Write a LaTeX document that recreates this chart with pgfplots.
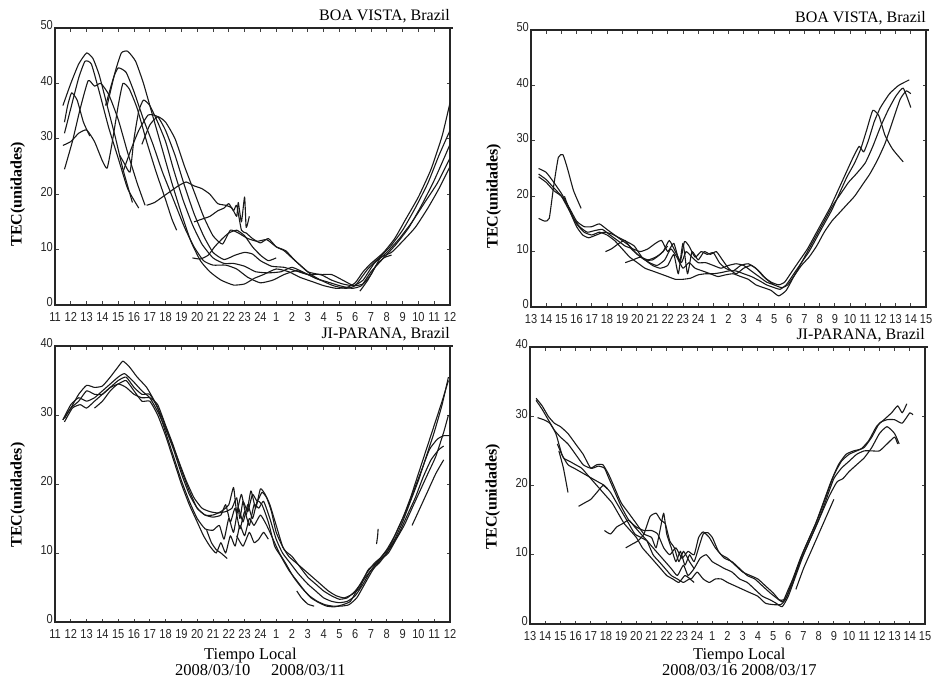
\documentclass[border=0pt]{standalone}
\usepackage{pgfplots}
\pgfplotsset{compat=1.18}
\usepackage{fontspec}
\setmainfont{Liberation Serif}
\newfontfamily\tickfont[FakeStretch=0.85]{Liberation Sans}
\begin{document}
\begin{tikzpicture}
\useasboundingbox (0,0) rectangle (939pt,686pt);
\pgfplotsset{
  panel/.style={
    scale only axis, width=395pt, anchor=south west,
    axis line style={line width=1.1pt, black!85},
    tick align=inside, major tick length=3.5pt,
    tick style={black!75, line width=0.8pt},
    ymin=0,
    tick label style={font=\tickfont\fontsize{13}{13}\selectfont, black!85},
    /pgf/number format/assume math mode=true,
    xticklabel style={yshift=-7pt, inner sep=0pt},
    yticklabel style={yshift=2.5pt, inner sep=2pt},
    ylabel={TEC(unidades)},
    ylabel style={font=\bfseries\fontsize{16}{16}\selectfont, anchor=center},
    title style={font=\fontsize{16}{16}\selectfont, at={(axis description cs:1,1)}, anchor=base east, yshift=2pt, inner sep=0pt},
    extra description/.code={\draw[line width=1.8pt, black!85] (-0.002,1) -- (1.008,1);},
  },
  tec/.style={black!90, line width=1.1pt, smooth, tension=0.3, mark=none, line join=round},
  dayA/.style={xmin=11, xmax=36, xtick={11,...,36},
    xticklabels={11,12,13,14,15,16,17,18,19,20,21,22,23,24,1,2,3,4,5,6,7,8,9,10,11,12}},
  dayB/.style={xmin=13, xmax=39, xtick={13,...,39},
    xticklabels={13,14,15,16,17,18,19,20,21,22,23,24,1,2,3,4,5,6,7,8,9,10,11,12,13,14,15}},
}

% ---------- top left: BOA VISTA 10-11 ----------
\begin{axis}[panel, dayA, at={(55pt,381pt)}, height=277pt, ymax=50,
  ytick={0,10,...,50}, title={BOA VISTA, Brazil},
  ylabel style={at={(axis description cs:-0.094,0.40)}}]
\addplot[tec] coordinates {(11.5,36)(12,40)(12.5,43.5)(13,45.5)(13.4,44.5)(13.8,41.5)(14.3,36)(14.8,30.5)(15.3,24.5)(15.9,18.5)};
\addplot[tec] coordinates {(11.6,31)(12,35.5)(12.5,41)(12.9,44)(13.3,43.5)(13.8,38.5)(14.4,32)(15,26.5)(15.6,21)(16.3,17.5)};
\addplot[tec] coordinates {(11.6,24.5)(12.1,29.5)(12.6,35.5)(13.1,40.5)(13.5,39.5)(13.9,40)(14.4,38)(15,33.5)(15.6,27.5)(16.2,22)(16.7,18)};
\addplot[tec] coordinates {(11.6,33)(11.8,36)(12.05,38.3)(12.4,37)(12.8,33)(13.2,30.5)};
\addplot[tec] coordinates {(11.5,28.8)(12,29.5)(12.5,31)(13,31.6)(13.5,29.5)(14,26)(14.3,24.7)(14.6,29)(15,36)(15.3,40)(15.7,39)(16.2,35.5)(16.8,29.5)(17.4,24)(18,19)(18.4,15.5)(18.7,13.5)};
\addplot[tec] coordinates {(14.3,36)(14.8,42)(15.2,45.5)(15.6,45.8)(16.1,44)(16.6,40)(17.2,34)(17.8,28)(18.4,22)(19,16.5)(19.6,11.5)(20.2,8)(20.8,6)(21.5,4.5)(22.3,3.6)(23,3.8)(23.6,4.8)(24.2,5.5)(25,6.5)(25.8,6)(26.5,5)(27.3,4.2)(28,3.5)(28.8,3)(29.5,3.2)(30,4)(30.5,6)(31,7.5)(31.8,9.5)(32.5,12)(33.2,15.5)(34,19.5)(34.8,24.5)(35.5,30.5)(36,36.5)};
\addplot[tec] coordinates {(14.2,36)(14.7,41)(15,42.8)(15.5,42)(16,38.5)(16.6,33.5)(17.2,29)(17.8,24)(18.5,19)(19.2,14)(19.8,10.5)(20.4,8)(21,7.2)(21.8,7.2)(22.5,6.5)(23.2,5)(24,4)(24.8,4.5)(25.5,5.5)(26.3,6.2)(27,5.5)(27.8,4.5)(28.6,3.5)(29.4,3)(30,3.5)(30.8,6.5)(31.5,8.5)(32.2,10.5)(33,13.5)(33.8,17.5)(34.6,22)(35.3,27)(36,31.5)};
\addplot[tec] coordinates {(15.1,27)(15.4,25.5)(15.75,24)(16,30)(16.3,35)(16.6,37)(17,36)(17.5,33)(18,29.5)(18.5,24.5)(19.1,19)(19.7,14.5)(20.3,11)(21,8.5)(21.7,7.5)(22.3,7.5)(23,7)(23.7,6)(24.5,5.8)(25.3,6)(26,6.8)(26.8,5.8)(27.5,4.8)(28.2,4.2)(29,3.5)(29.8,3)(30.4,3.5)(31,6)(31.8,8.5)(32.6,11)(33.4,14)(34.2,18)(35,22.5)(35.7,27)(36,29)};
\addplot[tec] coordinates {(15.3,24)(15.8,28)(16.3,31.5)(16.9,34.3)(17.5,34)(18,31.5)(18.6,27)(19.2,21.5)(19.8,16.5)(20.4,12.5)(21,9.5)(21.7,8.2)(22.4,9)(23,9.5)(23.5,9.2)(24,8)(24.7,7)(25.5,6.8)(26.2,6.2)(27,5.5)(27.8,5.5)(28.5,4.5)(29.2,3.8)(29.9,3.5)(30.5,4.5)(31.2,7.5)(32,9.5)(32.8,12)(33.6,15)(34.4,18.5)(35.2,22)(36,26.5)};
\addplot[tec] coordinates {(16.5,29)(17,32.5)(17.5,34)(18,33)(18.6,30)(19.2,25)(19.8,20.5)(20.4,16)(21,12.5)(21.6,11)(22.1,13.5)(22.6,13)(23.2,12)(23.8,11.5)(24.4,11.8)(25,10.5)(25.6,9.8)(26.2,8)(27,6)(27.8,5.5)(28.5,5.5)(29.2,4.5)(29.9,3.5)(30.5,3.8)(31,5.5)(31.6,8.5)(32.3,9.5)(33,11.5)(33.8,14)(34.6,17.5)(35.3,21)(36,25)};
\addplot[tec] coordinates {(16.8,18)(17.3,18.5)(17.8,19.5)(18.3,20.5)(18.8,21.5)(19.3,22.2)(19.8,21.5)(20.3,21)(20.8,20)(21.3,18.3)(21.8,18)(22.2,17.5)(22.5,16)(22.6,18.5)(22.8,15)(23,19.5)(23.1,14)(23.3,16)};
\addplot[tec] coordinates {(19.8,15)(20.3,15.5)(20.8,16)(21.3,17)(21.7,17.5)(22,18.3)(22.3,17)(22.5,18)(22.8,13.5)(23.1,13)(23.5,12)(24,11.2)(24.5,12)(25,10.5)(25.5,9.8)(26,8.5)(26.6,7)(27.2,5.5)(27.8,4.5)};
\addplot[tec] coordinates {(19.7,8.5)(20.2,8.3)(20.7,9)(21.1,10.5)(21.6,12)(22,13)(22.5,13.5)(23,12.5)(23.5,10.5)(24,9)(24.5,8)(25,8.5)};
\addplot[tec] coordinates {(30.3,2.5)(30.8,4.5)(31.3,7)(31.8,8.5)(32.3,9)};
\end{axis}

% ---------- top right: BOA VISTA 16-17 ----------
\begin{axis}[panel, dayB, at={(531pt,379pt)}, height=277pt, ymax=50,
  ytick={0,10,...,50}, title={BOA VISTA, Brazil},
  ylabel style={at={(axis description cs:-0.094,0.40)}}]
\addplot[tec] coordinates {(13.5,16)(13.9,15.5)(14.2,16)(14.5,22)(14.8,27)(15.1,27.5)(15.4,25)(15.8,21)(16.3,17.8)};
\addplot[tec] coordinates {(13.5,25)(14,24.3)(14.5,22.5)(15,20.5)(15.4,18.5)(15.8,16)(16.2,14.5)(16.7,13.5)(17.2,13.8)(17.7,14)(18.2,13)(18.7,12)(19.2,11)(19.7,10.5)(20.2,10)(20.7,10.5)(21.2,11.5)(21.6,12)(22,10)(22.4,11.5)(22.8,8)(23.1,11.8)(23.4,11)(23.8,9)(24.2,10)(24.6,9.5)(25,9.8)(25.4,8)(25.8,7)(26.3,6.5)(26.8,7.5)(27.3,7.8)(27.8,7)(28.3,5.5)(28.8,4.5)(29.3,4)(29.7,4.5)(30.2,6.5)(30.7,8.5)(31.2,10.5)(31.7,13)(32.2,15.5)(32.7,18)(33.2,21)(33.7,24)(34.2,27)(34.6,29)(34.9,28)(35.2,30)(35.6,33.5)(36,36)(36.6,38.5)(37.2,40)(37.9,41)};
\addplot[tec] coordinates {(13.5,24)(14,23)(14.5,21.5)(15,20)(15.5,17.5)(16,15)(16.5,13.5)(17,13)(17.5,13.5)(18,13)(18.5,12)(19,10.5)(19.5,9)(20,8)(20.5,7)(21,6.5)(21.5,6)(22,5.5)(22.5,5)(23,5)(23.5,5.2)(24,5.8)(24.5,6)(25,6)(25.5,6.2)(26,6.5)(26.5,6.5)(27,6)(27.5,5.5)(28,4.8)(28.5,4)(29,3.5)(29.4,3.2)(29.8,4)(30.3,6)(30.8,8)(31.3,10)(31.8,12.5)(32.3,15)(32.8,17.5)(33.3,20.5)(33.8,23.5)(34.3,26)(34.7,28.5)(35.1,32)(35.5,35.5)(35.9,34.5)(36.3,31)(36.8,28.5)(37.5,26.2)};
\addplot[tec] coordinates {(13.5,23.5)(14,22.5)(14.5,21)(15,20)(15.5,18)(16,15.5)(16.5,14.5)(17,14.5)(17.5,15)(18,14)(18.5,13)(19,12)(19.5,11)(20,9.5)(20.5,8.5)(21,7.5)(21.5,7)(22,7.5)(22.4,9.5)(22.7,6)(23,11.5)(23.3,6)(23.6,10)(24,8.5)(24.4,10)(24.8,9.5)(25.2,10)(25.6,8.5)(26,7)(26.5,6)(27,7)(27.5,7.5)(28,6.5)(28.5,5)(29,4)(29.5,3.5)(29.9,4)(30.4,6)(30.9,8.5)(31.4,11)(31.9,13.5)(32.4,16)(32.9,18.5)(33.4,20.5)(33.9,22.5)(34.4,24)(35,26)(35.5,29)(36,32.5)(36.5,35.5)(37,38)(37.5,39.5)(38,36)};
\addplot[tec] coordinates {(15.2,20)(15.6,17)(16,14.5)(16.4,13)(16.8,12.5)(17.3,13)(17.8,13.5)(18.3,13.2)(18.8,12.5)(19.3,11.8)(19.8,11)(20.3,9)(20.8,8)(21.3,7.5)(21.8,8.5)(22.2,10.5)(22.6,9)(23,7)(23.4,8)(23.8,7)(24.3,6.5)(24.8,6)(25.3,5.5)(25.8,5.8)(26.3,6)(26.8,5.5)(27.3,5)(27.8,4)(28.3,3.5)(28.8,3)(29.3,2)(29.8,3)(30.3,5.5)(30.8,7.5)(31.3,9)(31.8,11)(32.3,13.5)(32.8,15.5)(33.3,17)(33.8,18.5)(34.3,20)(34.8,22)(35.3,24)(35.8,26.5)(36.3,29.5)(36.8,33.5)(37.3,37.5)(37.7,39)(38,38.5)};
\addplot[tec] coordinates {(17.9,10)(18.3,10.5)(18.8,11.5)(19.2,12)(19.6,10.5)(20,9.5)(20.5,8.5)(21,8.5)(21.5,9.5)(22,11)};
\addplot[tec] coordinates {(19.2,8)(19.7,8.5)(20.2,9)(20.7,8.5)(21.2,9)(21.7,10)(22.1,12)(22.5,10)(22.9,8)(23.2,10)(23.6,9)(24,8)(24.5,8)(25,7.5)(25.5,7)(26,7.5)(26.5,7.8)(27,7.5)(27.5,6.5)(28,5.5)(28.5,4.5)(29,4)};
\end{axis}

% ---------- bottom left: JI-PARANA 10-11 ----------
\begin{axis}[panel, dayA, at={(55pt,64pt)}, height=276pt, ymax=40,
  ytick={0,10,...,40}, title={JI-PARANA, Brazil},
  ylabel style={at={(axis description cs:-0.094,0.46)}},
  xlabel={\hspace*{-20pt}Tiempo Local\\2008/03/10\quad\ 2008/03/11},
  xlabel style={align=center, font=\fontsize{16.5}{16}\selectfont,
    at={(axis description cs:0.52,-0.094)}, anchor=north, inner sep=0pt}]
\addplot[tec] coordinates {(11.5,29.3)(12,31)(12.5,33)(13,34.3)(13.5,34)(14,34.2)(14.5,35.5)(15,37)(15.3,37.8)(15.7,37)(16.2,35.5)(16.8,34)(17.3,32)(17.8,29.5)(18.3,26.5)(18.8,23.5)(19.3,20.5)(19.8,18)(20.3,16.5)(20.8,16)(21.3,15.8)(21.8,16)(22.2,16.5)(22.5,18)(22.7,15)(22.9,17.5)(23.2,16)(23.5,18.5)(23.8,17.5)(24.1,18.8)(24.4,18)(24.7,16)(25,13)(25.5,10.5)(26,9.5)(26.5,8)(27,6.5)(27.5,5.5)(28,4.5)(28.5,3.8)(29,3.3)(29.5,3.5)(30,4.5)(30.5,6)(31,7.5)(31.5,8.5)(32,10)(32.5,12)(33,14.5)(33.5,17.5)(34,20.5)(34.5,24)(35,27.5)(35.5,31.5)(35.9,35.5)};
\addplot[tec] coordinates {(11.5,29.3)(12,31.5)(12.5,32.5)(13,32)(13.5,32.5)(14,33.5)(14.5,34.5)(15,35.5)(15.4,36)(15.9,35)(16.5,33.5)(17,32.5)(17.5,30.5)(18,28)(18.5,25)(19,21.5)(19.5,18.5)(20,16.5)(20.5,15.5)(21,15.2)(21.5,15.5)(21.8,17)(22.1,14.5)(22.4,16.5)(22.7,13.5)(23,16)(23.3,14)(23.6,17)(23.9,16.5)(24.2,17.5)(24.6,15)(25,12)(25.4,10)(25.9,8.5)(26.4,7)(27,5.5)(27.5,4.5)(28,3.5)(28.5,3)(29,2.8)(29.5,3)(30,3.8)(30.5,5.5)(31,7.5)(31.5,9)(32,10.5)(32.5,12.5)(33,15)(33.5,18)(34,21.5)(34.5,25)(35,28.5)(35.5,32)(35.9,35)};
\addplot[tec] coordinates {(11.6,29.5)(12,31)(12.5,32)(13,33.5)(13.5,33)(14,33)(14.5,34)(15,35)(15.5,35.5)(16,34)(16.5,33)(17,33)(17.5,31)(18,27.5)(18.5,24)(19,20.5)(19.5,17.5)(20,15)(20.5,13.5)(21,13.3)(21.4,14)(21.7,12)(22,15)(22.3,13)(22.6,16.5)(22.9,14.5)(23.2,17)(23.5,15)(23.8,17.5)(24.1,17)(24.5,14.5)(24.9,11)(25.3,9.5)(25.8,7.5)(26.3,6)(26.8,4.5)(27.2,3.5)(27.7,2.8)(28.2,2.3)(28.7,2.2)(29.2,2.5)(29.7,3)(30.2,5)(30.7,7)(31.2,8.5)(31.7,9.5)(32.2,11)(32.7,13.5)(33.2,16)(33.7,19)(34.2,22)(34.7,25)(35.2,26.5)(35.6,27)(36,27)};
\addplot[tec] coordinates {(11.6,29)(12.1,31)(12.6,31.5)(13,31)(13.5,32)(14,33)(14.5,34)(15,34.5)(15.5,35)(16,33.5)(16.5,32)(17,32)(17.5,30)(18,27)(18.5,23.5)(19,20)(19.5,17)(20,14.5)(20.4,12.5)(20.8,11)(21.2,10)(21.5,11.5)(21.8,10)(22.1,12.5)(22.4,11)(22.7,14)(23,12.5)(23.3,15)(23.6,14)(24,15.5)(24.4,14)(24.8,12)(25.2,10)(25.6,8.5)(26.1,6.5)(26.6,5)(27.1,3.8)(27.6,3)(28.1,2.5)(28.6,2.3)(29.1,2.3)(29.6,2.5)(30.1,3.5)(30.6,5.5)(31.1,7.5)(31.6,9)(32.1,10)(32.6,12)(33.1,14)(33.6,16.5)(34.1,19)(34.6,21.5)(35.1,24)(35.6,27.5)(35.9,30)};
\addplot[tec] coordinates {(13.5,31)(14,32)(14.5,33.5)(15,34.5)(15.5,34)(16,33)(16.5,32.5)(17,32.5)(17.5,31.5)(18,28.5)(18.5,25.5)(19,22)(19.5,19)(20,16.5)(20.5,15.5)(21,15.5)(21.5,16)(22,17)(22.3,19.5)(22.5,16)(22.8,18.5)(23.1,15.5)(23.4,19)(23.7,16.5)(24,19.3)(24.3,18.5)(24.6,17)(25,14)(25.4,11)(25.8,9.5)(26.3,8.5)(26.8,7.5)(27.3,6.5)(27.8,5.5)(28.3,4.5)(28.8,3.8)(29.3,3.5)(29.8,4)(30.3,5)(30.8,7.5)(31.3,8.5)(31.8,9.5)(32.3,11)(32.8,13)(33.3,15.5)(33.8,18)(34.3,21)(34.8,23.5)(35.3,25)(35.6,25.5)};
\addplot[tec] coordinates {(20.6,13.3)(20.9,11.5)(21.2,10.5)(21.5,10)(21.9,9.2)};
\addplot[tec] coordinates {(22.5,12.5)(22.9,11)(23.3,13)(23.6,11.5)(23.9,12)(24.2,13)(24.5,12)};
\addplot[tec] coordinates {(33.6,14)(34.1,16.5)(34.6,19)(35.1,21.5)(35.6,23.5)};
\addplot[tec] coordinates {(31.35,11.3)(31.42,12.5)(31.45,13.5)};
\addplot[tec] coordinates {(26.3,4.5)(26.6,3.5)(27,2.6)(27.4,2.3)};
\end{axis}

% ---------- bottom right: JI-PARANA 16-17 ----------
\begin{axis}[panel, dayB, at={(530pt,62pt)}, height=277pt, ymax=40,
  ytick={0,10,...,40}, title={JI-PARANA, Brazil},
  ylabel style={at={(axis description cs:-0.094,0.46)}},
  xlabel={Tiempo Local\\2008/03/16 2008/03/17},
  xlabel style={align=center, font=\fontsize{16.5}{16}\selectfont,
    at={(axis description cs:0.53,-0.087)}, anchor=north, inner sep=0pt}]
\addplot[tec] coordinates {(13.4,32.6)(13.8,31.5)(14.2,30)(14.6,29)(15,28.5)(15.5,27.5)(16,26)(16.5,24.5)(17,22.5)(17.5,22.8)(17.9,22.5)(18.2,21)(18.6,19)(19,17)(19.5,15)(20,14)(20.5,13.5)(21,13.5)(21.4,13)(21.8,11)(22.2,10)(22.6,11)(23,9.5)(23.4,10.5)(23.8,10)(24.1,12.5)(24.4,13.3)(24.8,12.5)(25.2,11)(25.6,10)(26,9.5)(26.5,8.5)(27,7.5)(27.5,7)(28,6.5)(28.5,5.5)(29,4.5)(29.4,3.5)(29.7,3.5)(30,5)(30.5,7.5)(31,10.5)(31.5,13)(32,15.5)(32.5,18.5)(33,21.5)(33.5,23.5)(34,24.5)(34.5,25)(35,25.5)(35.5,27)(36,29)(36.5,29.5)(37,29.5)(37.5,29)(38,30.5)(38.2,30.2)};
\addplot[tec] coordinates {(13.4,32.3)(13.8,31)(14.2,29.5)(14.6,28)(15,27)(15.5,26)(16,24.5)(16.5,23)(17,22.5)(17.4,23)(17.8,23)(18.2,21.5)(18.6,19.5)(19,17.5)(19.5,16)(20,14.5)(20.5,13)(21,12.5)(21.3,11)(21.6,14)(21.8,16)(22,13)(22.3,11)(22.6,9)(22.9,10.5)(23.2,8.5)(23.5,10)(23.8,9)(24.1,11)(24.4,13)(24.7,13.2)(25,12.5)(25.4,10.5)(25.8,9.5)(26.3,9)(26.8,8)(27.3,7)(27.8,6.5)(28.3,5.5)(28.8,4.5)(29.2,3.8)(29.6,3.2)(29.9,4)(30.3,6.5)(30.8,9.5)(31.3,12)(31.8,14.5)(32.3,17.5)(32.8,20.5)(33.3,23)(33.8,24.5)(34.3,25)(34.8,25.3)(35.3,26.5)(35.8,28.5)(36.3,29.5)(36.8,30.5)(37.2,31.5)(37.5,30.5)(37.8,31.8)};
\addplot[tec] coordinates {(13.5,29.8)(13.9,29.5)(14.3,29)(14.7,27.5)(15.1,24.5)(15.5,23)(15.9,22.5)(16.3,22)(16.7,21.5)(17.1,21)(17.5,20.5)(17.9,20)(18.3,19)(18.7,17.5)(19.1,16)(19.5,14.5)(19.9,13)(20.3,12.5)(20.7,12)(21.1,11)(21.5,10)(21.9,9)(22.3,8)(22.7,7)(23.1,8.5)(23.4,7)(23.8,8)(24.2,9.5)(24.6,10)(25,9)(25.4,8.5)(25.8,8)(26.3,7.5)(26.8,6.5)(27.3,6)(27.8,5)(28.3,4)(28.8,3.5)(29.2,3)(29.6,2.5)(30,4)(30.5,7)(31,10)(31.5,12.5)(32,15)(32.5,18)(33,21)(33.5,22.5)(34,23.5)(34.5,24.5)(35,25)(35.5,25)(36,25)(36.5,26)(37,27)(37.2,26)};
\addplot[tec] coordinates {(14.8,26)(15.2,24)(15.6,23.5)(16,23)(16.4,22.5)(16.8,21.5)(17.2,20.5)(17.6,19.5)(18,18.5)(18.4,17.5)(18.8,16)(19.2,14.5)(19.6,13.5)(20,12.5)(20.4,11)(20.8,10)(21.2,9)(21.6,8)(22,7)(22.4,6.5)(22.8,6)(23.2,7)(23.6,6.5)(24,7.5)(24.4,6.5)(24.8,6)(25.2,6.5)(25.6,6.5)(26,6)(26.5,5.5)(27,5)(27.5,4.5)(28,4)(28.5,3)(29,2.8)(29.5,2.8)(29.8,3.5)(30.2,5.5)(30.7,8.5)(31.2,11)(31.7,13.5)(32.2,16)(32.7,18.5)(33.2,20.5)(33.6,21)(34,22)(34.5,23)(35,24)(35.5,25.5)(36,27.5)(36.5,28.5)(37,27.5)(37.3,26)};
\addplot[tec] coordinates {(16.2,17)(16.6,17.5)(17,18)(17.4,19)(17.8,20)(18.1,19.5)};
\addplot[tec] coordinates {(14.9,25)(15.2,22.5)(15.5,19)};
\addplot[tec] coordinates {(17.9,13.5)(18.3,13)(18.7,14)(19.1,14.5)(19.5,15)(19.9,14)(20.3,13)(20.7,12)(21.1,10)(21.5,9)(21.9,8)(22.3,7)(22.7,6.5)(23.1,6)(23.5,6.5)(23.8,6)};
\addplot[tec] coordinates {(19.3,11)(19.7,11.5)(20.1,12)(20.5,13)(20.9,15.5)(21.3,16)(21.6,15)(21.9,14.5)(22.2,12)(22.5,11)(22.8,9)(23.1,10.5)(23.5,9)(23.8,8)};
\addplot[tec] coordinates {(30.5,5)(31,8)(31.5,10.5)(32,13)(32.5,15.5)(33,18)};
\end{axis}
\end{tikzpicture}
\end{document}
